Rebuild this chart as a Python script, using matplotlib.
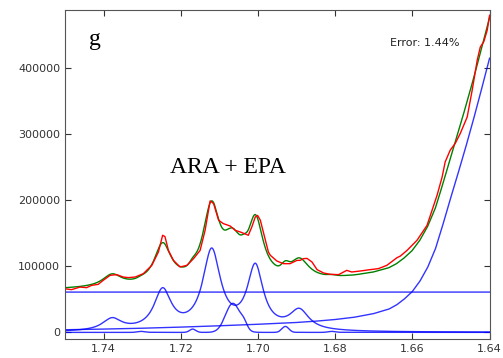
import numpy as np
import matplotlib
matplotlib.use('Agg')
import matplotlib.pyplot as plt

red_x = [1.7500, 1.7483, 1.7461, 1.7444, 1.7431, 1.7414, 1.7401, 1.7383, 1.7366, 1.7349,
         1.7336, 1.7318, 1.7297, 1.7275, 1.7258, 1.7247, 1.7241, 1.7232, 1.7219, 1.7202,
         1.7184, 1.7167, 1.7150, 1.7137, 1.7124, 1.7115, 1.7102, 1.7090, 1.7072, 1.7059,
         1.7046, 1.7033, 1.7025, 1.7016, 1.7007, 1.7001, 1.6994, 1.6981, 1.6973, 1.6968,
         1.6951, 1.6934, 1.6925, 1.6917, 1.6908, 1.6899, 1.6891, 1.6882, 1.6873, 1.6860,
         1.6847, 1.6830, 1.6813, 1.6791, 1.6770, 1.6757, 1.6735, 1.6709, 1.6688, 1.6666,
         1.6640, 1.6631, 1.6614, 1.6588, 1.6562, 1.6549, 1.6536, 1.6523, 1.6515, 1.6502,
         1.6489, 1.6476, 1.6458, 1.6445, 1.6432, 1.6424, 1.6415, 1.6406, 1.6400]
red_y = [66000, 64700, 68600, 67700, 71200, 72700, 78800, 86400, 87400, 83800,
         82900, 83800, 88900, 101500, 121700, 147000, 145000, 124000, 109000, 99000,
         101500, 111600, 124000, 154500, 199000, 195000, 169700, 164700, 161000, 154500,
         152000, 149000, 147000, 159500, 174700, 177000, 170000, 140000, 121700, 116700,
         108000, 104000, 104000, 104000, 106500, 109000, 109000, 111600, 112000, 106500,
         95000, 89900, 87900, 87400, 93900, 91400, 92900, 95000, 96500, 101500,
         113000, 115600, 124000, 139400, 162000, 184800, 207600, 235000, 258000, 275800,
         286000, 301000, 326000, 366700, 412000, 432000, 440000, 457600, 480000]

# fitted components (blue)
peak_pos = [1.7378, 1.7247, 1.7120, 1.7007, 1.6893]
peak_height = [18000, 60000, 120000, 95000, 30000]
peak_hwhm = [0.0030, 0.0027, 0.0028, 0.0025, 0.0030]

narrow_pos = [1.7302, 1.7169, 1.7065, 1.7036, 1.6929, 1.6808]
narrow_height = [1500, 5000, 44000, 8000, 9000, 1500]
narrow_sigma = [0.0010, 0.0008, 0.0019, 0.0008, 0.0009, 0.0010]

offset = 61000

tail_x = [1.640, 1.642, 1.644, 1.646, 1.648, 1.650, 1.652, 1.654, 1.656, 1.658,
          1.660, 1.662, 1.664, 1.666, 1.670, 1.675, 1.680, 1.685, 1.690, 1.700,
          1.710, 1.720, 1.730, 1.740, 1.750]
tail_y = [415000, 370000, 326000, 284000, 244000, 205000, 165000, 127000, 99000, 78000,
          62000, 51000, 42000, 35500, 28500, 23000, 19500, 17000, 15000, 12300,
          10000, 8000, 6300, 5000, 4000]

x = np.linspace(1.64, 1.75, 1200)

peaks = np.zeros_like(x)
for p, h, w in zip(peak_pos, peak_height, peak_hwhm):
    peaks += h * w**2 / ((x - p)**2 + w**2)

narrow = np.zeros_like(x)
for p, h, s in zip(narrow_pos, narrow_height, narrow_sigma):
    narrow += h * np.exp(-(x - p)**2 / (2 * s**2))

flat = np.full_like(x, offset)
tail = np.interp(x, tail_x, tail_y)
fit = peaks + narrow + flat + tail

fig = plt.figure(figsize=(5.03, 3.58), dpi=100)
ax = fig.add_axes([0.1292, 0.0531, 0.8441, 0.919])

ax.plot(x, peaks, color='b', lw=1, alpha=0.8)
ax.plot(x, narrow, color='b', lw=1, alpha=0.8)
ax.plot(x, flat, color='b', lw=1, alpha=0.8)
ax.plot(tail_x, tail_y, color='b', lw=1, alpha=0.8)
ax.plot(x, fit, color='g', lw=1)
ax.plot(red_x, red_y, color='r', lw=1)

ax.set_xlim(1.75, 1.64)
ax.set_ylim(-10000, 488000)
ax.set_xticks([1.74, 1.72, 1.70, 1.68, 1.66, 1.64])
ax.set_xticklabels(['1.74', '1.72', '1.70', '1.68', '1.66', '1.64'])
ax.set_yticks([0, 100000, 200000, 300000, 400000])
ax.tick_params(direction='in', top=True, right=True, length=4, labelsize=8, colors='#333333')
for sp in ax.spines.values():
    sp.set_color('#555555')

fig.text(0.177, 0.874, 'g', family='Liberation Serif', fontsize=17, va='baseline')
fig.text(0.338, 0.517, 'ARA + EPA', family='Liberation Serif', fontsize=17, va='baseline')
fig.text(0.775, 0.8715, 'Error: 1.44%', fontsize=8, va='baseline', color='#222222')

fig.savefig('out.png', dpi=100)
